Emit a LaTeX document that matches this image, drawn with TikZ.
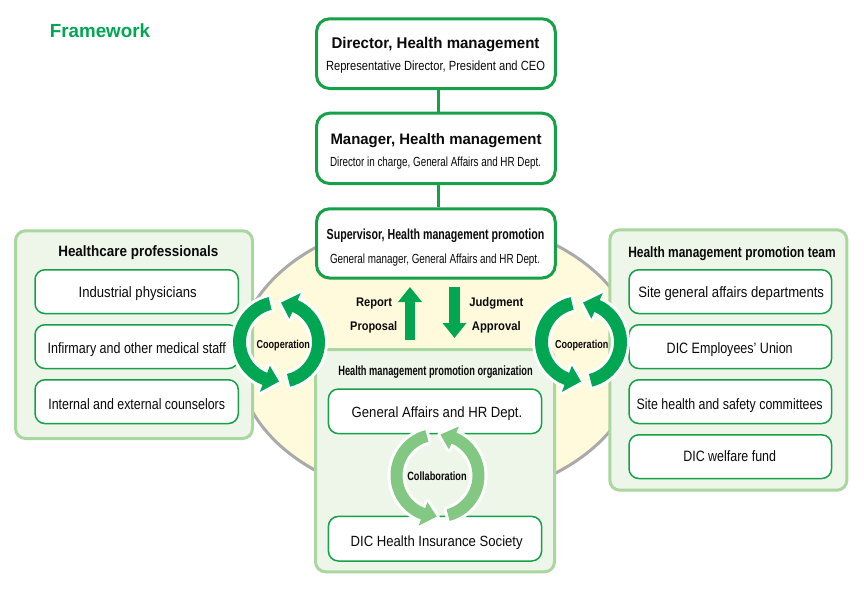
\documentclass[tikz,border=0pt]{standalone}
\usepackage{fontspec}
\setmainfont{Liberation Sans}
\usepackage{graphicx}
\usetikzlibrary{arrows.meta,calc,shapes.geometric}
\definecolor{mgreen}{RGB}{0,166,81}
\definecolor{bgreen}{RGB}{22,160,72}
\definecolor{lgfill}{RGB}{237,246,233}
\definecolor{lgdraw}{RGB}{170,214,160}
\definecolor{ellfill}{RGB}{255,250,220}
\definecolor{ellgray}{RGB}{170,170,170}
\definecolor{colgreen}{RGB}{130,200,130}
\definecolor{txt}{RGB}{10,10,10}
\newcommand\fw[2]{\resizebox{#1pt}{\height}{#2}}
% #1 centre, #2 radius, #3 half band, #4 half head, #5 start angle, #6 tip angle, #7 head angle, #8 style
\newcommand\ringarrow[8]{%
  \fill[#8] ($(#1)+(#5:#2+#3)$) arc[start angle=#5, end angle=#6+#7, radius=#2+#3]
    -- ($(#1)+(#6+#7:#2+#4)$) -- ($(#1)+(#6:#2)$) -- ($(#1)+(#6+#7:#2-#4)$)
    -- ($(#1)+(#6+#7:#2-#3)$) arc[start angle=#6+#7, end angle=#5, radius=#2-#3] -- cycle;}
\begin{document}
\begin{tikzpicture}[x=1pt,y=-1pt,
  lbl/.style={inner sep=0pt, anchor=base, text=txt},
  panel/.style={draw=lgdraw, fill=lgfill, line width=3pt, rounded corners=10pt, rectangle, inner sep=0pt},
  mainbox/.style={draw=bgreen, fill=white, line width=3pt, rounded corners=13pt, rectangle, inner sep=0pt, minimum width=238.7pt},
  ibox/.style={draw=bgreen, fill=white, line width=1.5pt, rounded corners=10pt, rectangle, inner sep=0pt},
  conn/.style={draw=bgreen, line width=3.5pt},
  bigarrow/.style={draw=mgreen, line width=10.5pt, -{Triangle[width=23pt,length=15pt]}},
  halo/.style={preaction={draw=white, line width=6pt, line join=round}}
]
\useasboundingbox (0,0) rectangle (864,589);
\fill[white] (0,0) rectangle (864,589);

% title
\node[lbl, text=mgreen, font=\fontsize{19pt}{22pt}\selectfont\bfseries] (fwk) at (100,37.7) {\fw{100}{Framework}};

% background ellipse
\node[ellipse, draw=ellgray, fill=ellfill, line width=3pt, minimum width=400pt, minimum height=282pt, inner sep=0pt] (ell) at (438,359) {};

% panels
\node[panel, minimum width=239pt, minimum height=222.3pt] (org) at (435,460.65) {};
\node[panel, minimum width=237pt, minimum height=207.7pt] (hcp) at (134,334.65) {};
\node[panel, minimum width=237pt, minimum height=260.4pt] (team) at (728.3,360) {};

% main boxes
\node[mainbox, minimum height=69.7pt] (dir) at (435.9,53.65) {};
\node[mainbox, minimum height=70.3pt] (mgr) at (435.9,148.35) {};
\node[mainbox, minimum height=69.2pt] (sup) at (435.9,243.4) {};
\draw[conn] ([xshift=2.5pt]dir.south) -- ([xshift=2.5pt]mgr.north);
\draw[conn] ([xshift=2.5pt]mgr.south) -- ([xshift=2.5pt]sup.north);

% inner boxes, left
\node[ibox, minimum width=203.3pt, minimum height=43.8pt] (b1) at (136.65,291.65) {};
\node[ibox, minimum width=203.3pt, minimum height=43.8pt] (b2) at (136.65,346.65) {};
\node[ibox, minimum width=203.3pt, minimum height=43.8pt] (b3) at (136.65,401.65) {};
% inner boxes, right
\node[ibox, minimum width=202.6pt, minimum height=43.8pt] (r1) at (730.3,291.65) {};
\node[ibox, minimum width=202.6pt, minimum height=43.8pt] (r2) at (730.3,346.65) {};
\node[ibox, minimum width=202.6pt, minimum height=43.8pt] (r3) at (730.3,401.65) {};
\node[ibox, minimum width=202.6pt, minimum height=43.8pt] (r4) at (730.3,456.65) {};
% inner boxes, organization
\node[ibox, minimum width=213.2pt, minimum height=44.6pt] (o1) at (435,411.3) {};
\node[ibox, minimum width=213.2pt, minimum height=44.6pt] (o2) at (435,538.7) {};

% report / judgment arrows
\coordinate (upS) at (410,340);
\coordinate (upE) at (410,287);
\coordinate (dnS) at (454.5,287);
\coordinate (dnE) at (454.5,338);
\draw[bigarrow] (upS) -- (upE);
\draw[bigarrow] (dnS) -- (dnE);

% circular arrows
\coordinate (coopL) at (279,342);
\coordinate (coopR) at (581,342);
\coordinate (coll) at (437.5,475.5);
\ringarrow{coopL}{39.5}{6.5}{14}{257}{90}{21}{mgreen, halo}
\ringarrow{coopL}{39.5}{6.5}{14}{76}{-87}{21}{mgreen, halo}
\ringarrow{coopR}{39.5}{6.5}{14}{257}{90}{21}{mgreen, halo}
\ringarrow{coopR}{39.5}{6.5}{14}{76}{-87}{21}{mgreen, halo}
\ringarrow{coll}{41}{6}{12.5}{255}{91}{19.6}{colgreen, halo}
\ringarrow{coll}{41}{6}{12.5}{75}{-86}{19.6}{colgreen, halo}

% texts, top
\node[lbl, font=\fontsize{15.5pt}{18pt}\selectfont\bfseries] (t1) at (435.5,48.5) {\fw{208}{Director, Health management}};
\node[lbl, font=\fontsize{13.3pt}{15pt}\selectfont] (t2) at (435.5,70.7) {\fw{219}{Representative Director, President and CEO}};
\node[lbl, font=\fontsize{15.2pt}{18pt}\selectfont\bfseries] (t3) at (436,144) {\fw{211}{Manager, Health management}};
\node[lbl, font=\fontsize{13.2pt}{15pt}\selectfont] (t4) at (435.5,166.7) {\fw{211}{Director in charge, General Affairs and HR Dept.}};
\node[lbl, font=\fontsize{14.6pt}{17pt}\selectfont\bfseries] (t5) at (435.5,239.3) {\fw{217.6}{Supervisor, Health management promotion}};
\node[lbl, font=\fontsize{13.2pt}{15pt}\selectfont] (t6) at (435,263.3) {\fw{210}{General manager, General Affairs and HR Dept.}};

% arrow labels
\node[lbl, font=\fontsize{12.5pt}{14pt}\selectfont\bfseries] (t7) at (374,306.7) {\fw{36}{Report}};
\node[lbl, font=\fontsize{12.5pt}{14pt}\selectfont\bfseries] (t8) at (373.7,330.7) {\fw{47}{Proposal}};
\node[lbl, font=\fontsize{12.5pt}{14pt}\selectfont\bfseries] (t9) at (496.3,306.7) {\fw{54}{Judgment}};
\node[lbl, font=\fontsize{12.5pt}{14pt}\selectfont\bfseries] (t10) at (496.3,330.7) {\fw{48.7}{Approval}};
\node[lbl, font=\fontsize{11.5pt}{13pt}\selectfont\bfseries] (t11) at (283.3,348.3) {\fw{53.3}{Cooperation}};
\node[lbl, font=\fontsize{11.5pt}{13pt}\selectfont\bfseries] (t12) at (581.7,348.3) {\fw{53.3}{Cooperation}};

% organization
\node[lbl, font=\fontsize{13.5pt}{15pt}\selectfont\bfseries] (t13) at (435.5,375.7) {\fw{194.4}{Health management promotion organization}};
\node[lbl, font=\fontsize{14.8pt}{17pt}\selectfont] (t14) at (437,417.5) {\fw{170.6}{General Affairs and HR Dept.}};
\node[lbl, font=\fontsize{12pt}{13pt}\selectfont\bfseries] (t15) at (437,480) {\fw{59.4}{Collaboration}};
\node[lbl, font=\fontsize{14.8pt}{17pt}\selectfont] (t16) at (436.7,546.7) {\fw{172}{DIC Health Insurance Society}};

% left panel
\node[lbl, font=\fontsize{15pt}{17pt}\selectfont\bfseries] (t17) at (138.3,256.7) {\fw{160}{Healthcare professionals}};
\node[lbl, font=\fontsize{15pt}{17pt}\selectfont] (t18) at (137.7,297.3) {\fw{118}{Industrial physicians}};
\node[lbl, font=\fontsize{15pt}{17pt}\selectfont] (t19) at (136.8,353.3) {\fw{178.3}{Infirmary and other medical staff}};
\node[lbl, font=\fontsize{15pt}{17pt}\selectfont] (t20) at (136.7,409) {\fw{176.7}{Internal and external counselors}};

% right panel
\node[lbl, font=\fontsize{15pt}{17pt}\selectfont\bfseries] (t21) at (732,257.3) {\fw{207.4}{Health management promotion team}};
\node[lbl, font=\fontsize{15pt}{17pt}\selectfont] (t22) at (731.2,297.3) {\fw{185.7}{Site general affairs departments}};
\node[lbl, font=\fontsize{15pt}{17pt}\selectfont] (t23) at (729.7,353.3) {\fw{126}{DIC Employees’ Union}};
\node[lbl, font=\fontsize{15pt}{17pt}\selectfont] (t24) at (729.7,409.3) {\fw{186}{Site health and safety committees}};
\node[lbl, font=\fontsize{15pt}{17pt}\selectfont] (t25) at (729.7,461.5) {\fw{92.7}{DIC welfare fund}};
\end{tikzpicture}
\end{document}
